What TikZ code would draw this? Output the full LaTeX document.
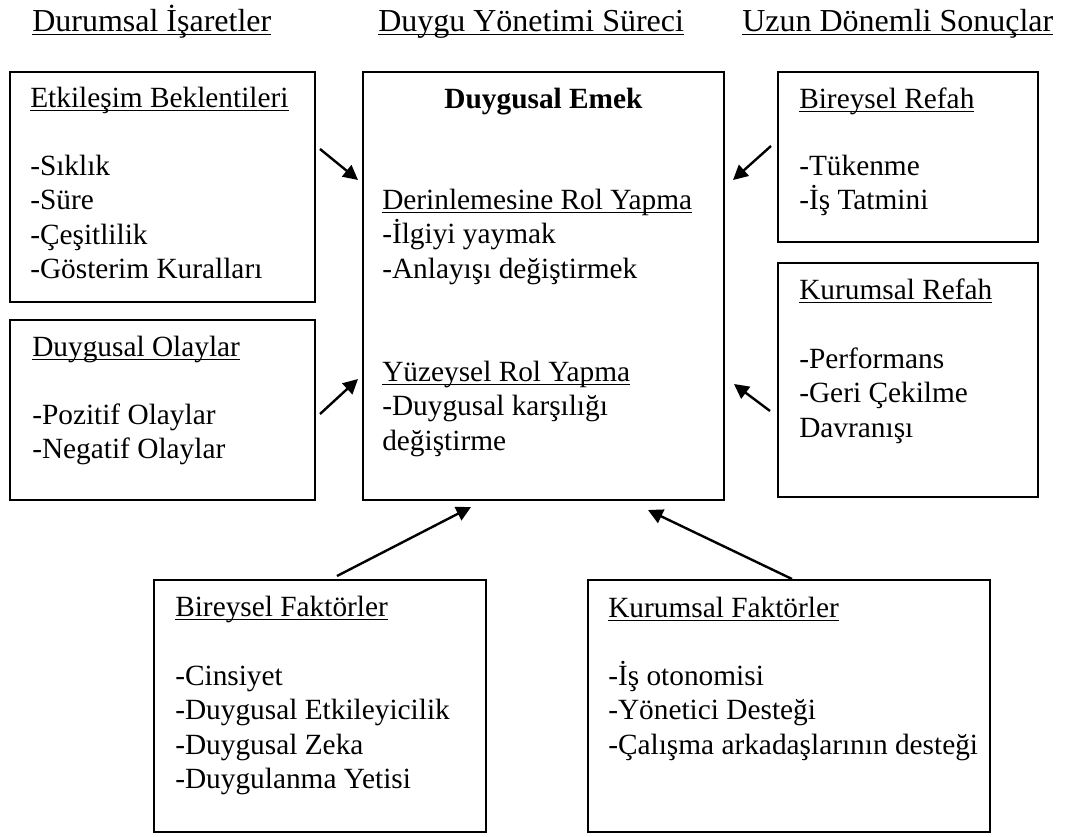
\documentclass[tikz,border=0pt]{standalone}
\usepackage{fontspec}
\setmainfont{Liberation Serif}
\usetikzlibrary{arrows.meta,fit}

% underline at a fixed depth below the baseline
\newcommand\ulin[1]{\setbox0\hbox{#1}\rlap{\rule[-3.2pt]{\wd0}{1.1pt}}\box0}

\tikzset{
  box/.style={draw=black, line width=1.1pt, inner sep=0pt},
  txt/.style={anchor=base west, inner sep=0pt, font=\fontsize{22}{26}\selectfont},
  hdr/.style={anchor=base west, inner sep=0pt, font=\fontsize{24}{28}\selectfont},
  link/.style={line width=1.8pt, -{Triangle[length=11pt,width=11pt]}},
}

\begin{document}
\begin{tikzpicture}[x=0.75pt,y=-0.75pt]
\useasboundingbox (0,0) rectangle (1066,836);

% column headings
\node[hdr] (h1) at (32,31) {\ulin{Durumsal İşaretler}};
\node[hdr] (h2) at (378,31) {\ulin{Duygu Yönetimi Süreci}};
\node[hdr] (h3) at (742,31) {\ulin{Uzun Dönemli Sonuçlar}};

% box corners
\coordinate (a1) at (10,72);   \coordinate (a2) at (315,302);
\coordinate (b1) at (10,320);  \coordinate (b2) at (315,500);
\coordinate (c1) at (363,72);  \coordinate (c2) at (724,500);
\coordinate (d1) at (778,72);  \coordinate (d2) at (1038,242);
\coordinate (e1) at (778,263); \coordinate (e2) at (1038,497);
\coordinate (f1) at (154,580); \coordinate (f2) at (486,832);
\coordinate (g1) at (588,580); \coordinate (g2) at (990,832);

\node[box, fit=(a1)(a2)] (etk) {};
\node[box, fit=(b1)(b2)] (olay) {};
\node[box, fit=(c1)(c2)] (emek) {};
\node[box, fit=(d1)(d2)] (brefah) {};
\node[box, fit=(e1)(e2)] (krefah) {};
\node[box, fit=(f1)(f2)] (bfak) {};
\node[box, fit=(g1)(g2)] (kfak) {};

% Etkileşim Beklentileri
\node[txt] (etk0) at (30,107) {\ulin{Etkileşim Beklentileri}};
\node[txt] (etk1) at (30,175) {-Sıklık};
\node[txt] (etk2) at (30,209.5) {-Süre};
\node[txt] (etk3) at (30,244) {-Çeşitlilik};
\node[txt] (etk4) at (30,278.5) {-Gösterim Kuralları};

% Duygusal Olaylar
\node[txt] (olay0) at (32,356) {\ulin{Duygusal Olaylar}};
\node[txt] (olay1) at (32,424) {-Pozitif Olaylar};
\node[txt] (olay2) at (32,458.5) {-Negatif Olaylar};

% Duygusal Emek
\node[txt, anchor=base, font=\fontsize{22}{26}\selectfont\bfseries] (emek0) at (543.5,108) {Duygusal Emek};
\node[txt] (emek1) at (382,209) {\ulin{Derinlemesine Rol Yapma}};
\node[txt] (emek2) at (382,243.5) {-İlgiyi yaymak};
\node[txt] (emek3) at (382,278) {-Anlayışı değiştirmek};
\node[txt] (emek4) at (382,381) {\ulin{Yüzeysel Rol Yapma}};
\node[txt] (emek5) at (382,415.5) {-Duygusal karşılığı};
\node[txt] (emek6) at (382,450) {değiştirme};

% Bireysel Refah
\node[txt] (br0) at (799,108) {\ulin{Bireysel Refah}};
\node[txt] (br1) at (799,175) {-Tükenme};
\node[txt] (br2) at (799,209.5) {-İş Tatmini};

% Kurumsal Refah
\node[txt] (kr0) at (799,299) {\ulin{Kurumsal Refah}};
\node[txt] (kr1) at (799,368) {-Performans};
\node[txt] (kr2) at (799,402.5) {-Geri Çekilme};
\node[txt] (kr3) at (799,437) {Davranışı};

% Bireysel Faktörler
\node[txt] (bf0) at (175,616) {\ulin{Bireysel Faktörler}};
\node[txt] (bf1) at (175,685) {-Cinsiyet};
\node[txt] (bf2) at (175,719.5) {-Duygusal Etkileyicilik};
\node[txt] (bf3) at (175,754) {-Duygusal Zeka};
\node[txt] (bf4) at (175,788.5) {-Duygulanma Yetisi};

% Kurumsal Faktörler
\node[txt] (kf0) at (608,617) {\ulin{Kurumsal Faktörler}};
\node[txt] (kf1) at (608,685) {-İş otonomisi};
\node[txt] (kf2) at (608,719.5) {-Yönetici Desteği};
\node[txt] (kf3) at (608,754) {-Çalışma arkadaşlarının desteği};

% arrow ends
\coordinate (p1) at (320,149);  \coordinate (q1) at (358,180);
\coordinate (p2) at (320,414);  \coordinate (q2) at (358,379);
\coordinate (p3) at (771,146);  \coordinate (q3) at (733,180);
\coordinate (p4) at (770,411);  \coordinate (q4) at (734,384);
\coordinate (p5) at (337,576);  \coordinate (q5) at (471,507);
\coordinate (p6) at (792,579);  \coordinate (q6) at (648,510);

\draw[link] (p1) -- (q1);
\draw[link] (p2) -- (q2);
\draw[link] (p3) -- (q3);
\draw[link] (p4) -- (q4);
\draw[link] (p5) -- (q5);
\draw[link] (p6) -- (q6);
\end{tikzpicture}
\end{document}
